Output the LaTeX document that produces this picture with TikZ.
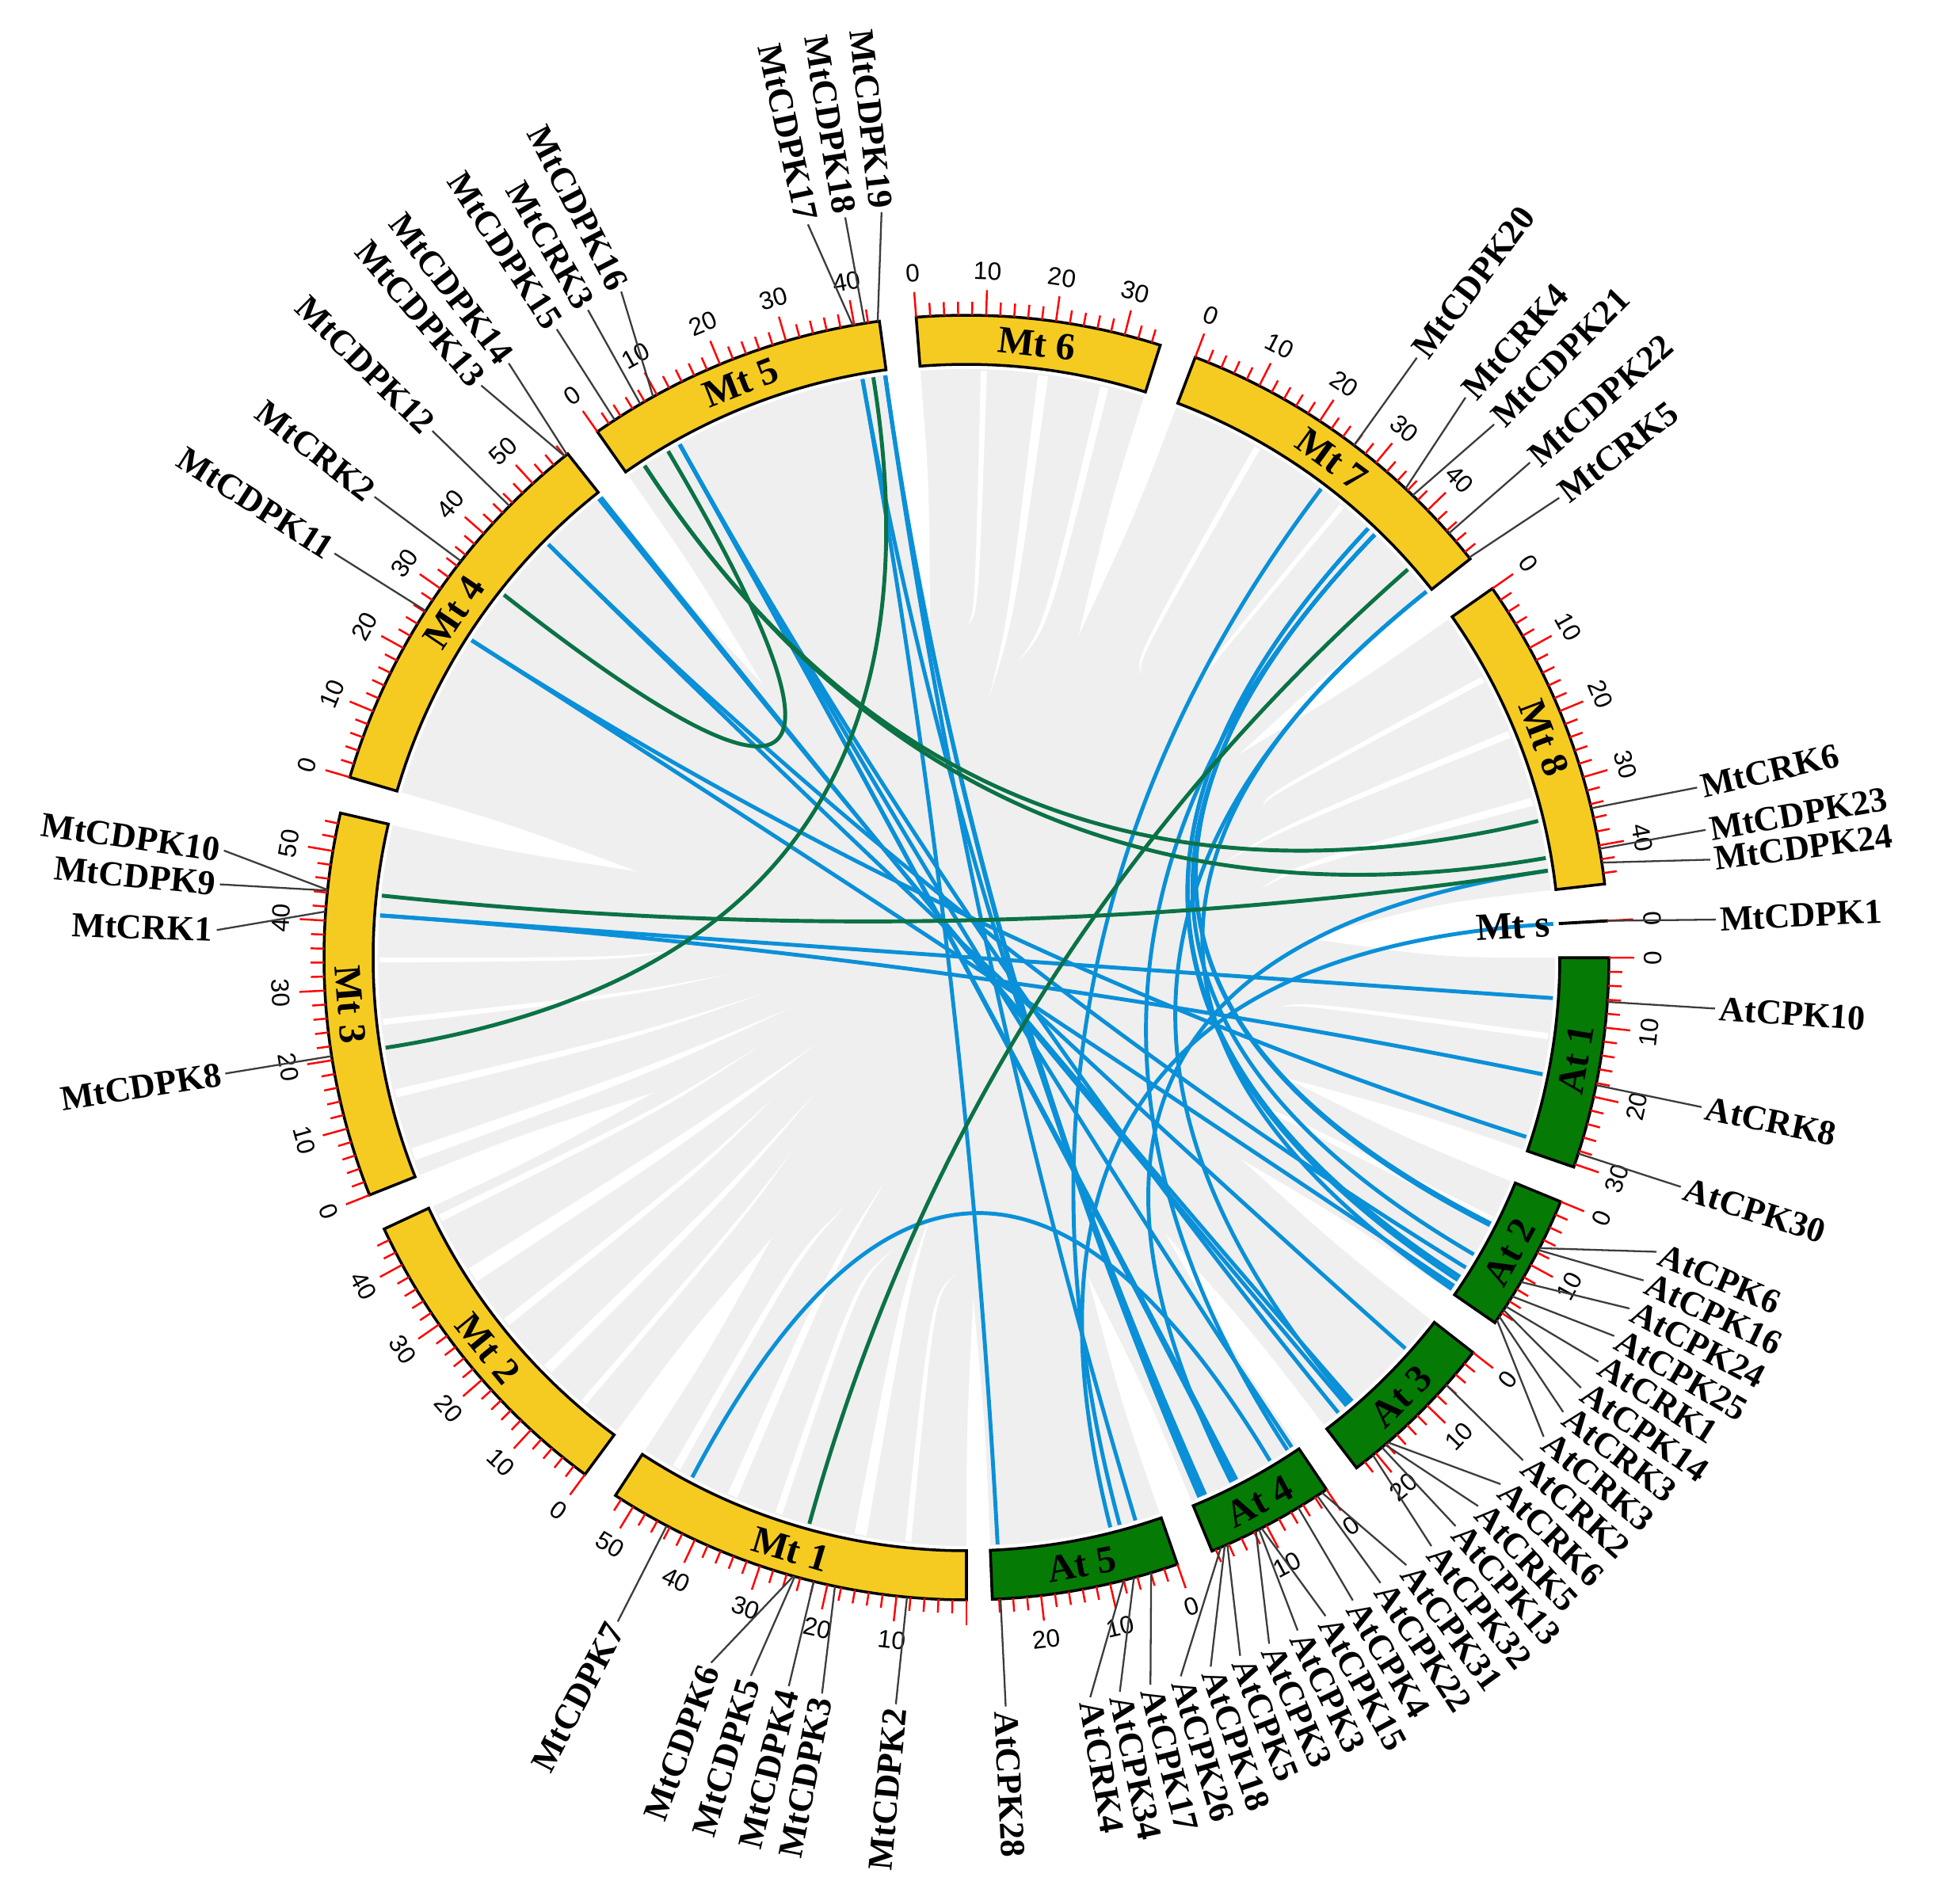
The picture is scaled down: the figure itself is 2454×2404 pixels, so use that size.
\documentclass[tikz,border=0pt]{standalone}
\usepackage{fontspec}
\setmainfont{Liberation Serif}
\newfontfamily\ticksans{Liberation Sans}
\definecolor{chromY}{HTML}{F5CB22}
\definecolor{chromG}{HTML}{057A05}
\definecolor{linkB}{HTML}{0A90D8}
\definecolor{linkG}{HTML}{0B7245}
\definecolor{bgGrey}{HTML}{EFEFEF}
\definecolor{tickRed}{HTML}{FF0000}
\definecolor{lblLine}{HTML}{3C3C3C}
\def\Rin{749}
\def\Rout{811}
\def\Rlink{742}
\def\Rctl{247}
\def\Rlab{952}
\def\Rlabend{947}
\def\Rtl{867}
\def\RtickL{843}
\def\RtickS{828}
\def\kscale{0.625}
\tikzset{
  chrombar/.style={draw=black, line width=1pt, fill=#1},
  tickline/.style={draw=tickRed, line width=0.7pt},
  ticklabel/.style={font=\ticksans\fontsize{9}{10}\selectfont, inner sep=0pt},
  chromlabel/.style={font=\bfseries\fontsize{13.8}{16}\selectfont, inner sep=0pt},
  genelabel/.style={font=\bfseries\fontsize{12.6}{15}\selectfont, inner sep=0pt},
  connector/.style={draw=lblLine, line width=0.65pt},
  bluelink/.style={draw=linkB, line width=1.4pt},
  greenlink/.style={draw=linkG, line width=1.4pt},
}
\newcommand{\chromosome}[6]{%
  \pgfmathsetmacro\cEnd{#1-#2*\kscale}
  \pgfmathsetmacro\cMid{(#1+\cEnd)/2}
  \draw[chrombar=#3] (#1:\Rin) arc[start angle=#1, end angle=\cEnd, radius=\Rin] -- (\cEnd:\Rout) arc[start angle=\cEnd, end angle=#1, radius=\Rout] -- cycle;
  \pgfmathtruncatemacro\nT{floor(#2/2)}
  \foreach \i in {0,...,\nT}{%
    \pgfmathsetmacro\tA{#1-2*\i*\kscale}
    \pgfmathtruncatemacro\isMaj{mod(\i,5)==0}
    \ifnum\isMaj=1
      \draw[tickline] (\tA:\Rout) -- (\tA:\RtickL);
      \pgfmathtruncatemacro\tval{2*\i}
      \pgfmathtruncatemacro\showlab{\tval+1>#6}
      \ifnum\showlab=1
        \pgfmathsetmacro\tn{mod(\tA+720,360)}
        \pgfmathsetmacro\trot{\tn<180 ? \tn-90 : \tn+90}
        \node[ticklabel, rotate=\trot] at (\tA:\Rtl) {\tval};
      \fi
    \else
      \draw[tickline] (\tA:\Rout) -- (\tA:\RtickS);
    \fi
  }
  \pgfmathsetmacro\cn{mod(\cMid+720,360)}
  \pgfmathsetmacro\crot{\cn<180 ? \cn-90 : \cn+90}
  \node[chromlabel, rotate=\crot] (#5) at (\cMid:780) {#4};
}
\def\genelist{MtCDPK2/264.69/264.6/MtCDPK2, MtCDPK3/258.19/258.9/MtCDPK3, MtCDPK4/256.25/256.3/MtCDPK4, MtCDPK5/254.50/253.3/MtCDPK5, MtCDPK6/254.38/250.1/MtCDPK6, MtCDPK7/242.19/242.3/MtCDPK7, MtCDPK8/188.83/188.9/MtCDPK8, MtCRK1/175.89/177.9/MtCRK1, MtCDPK9/174.01/174.4/MtCDPK9, MtCDPK10/173.95/171.8/MtCDPK10, MtCDPK11/147.33/147.4/MtCDPK11, MtCRK2/141.89/142.1/MtCRK2, MtCDPK12/135.33/135.4/MtCDPK12, MtCDPK13/128.70/130.3/MtCDPK13, MtCDPK14/128.45/127.6/MtCDPK14, MtCDPK15/123.19/123.1/MtCDPK15, MtCRK3/120.50/120.3/MtCRK3, MtCDPK16/119.19/117.4/MtCDPK16, MtCDPK17/100.19/102.2/MtCDPK17, MtCDPK18/99.12/99.3/MtCDPK18, MtCDPK19/97.94/96.5/MtCDPK19, MtCDPK20/52.89/53.1/MtCDPK20, MtCRK4/46.89/48.3/MtCRK4, MtCDPK21/46.01/45.3/MtCDPK21, MtCDPK22/41.33/41.3/MtCDPK22, MtCRK5/38.51/37.8/MtCRK5, MtCRK6/13.44/13.1/MtCRK6, MtCDPK23/9.75/9.8/MtCDPK23, MtCDPK24/8.50/7.5/MtCDPK24, MtCDPK1/3.28/2.9/MtCDPK1, AtCPK10/-3.96/-3.9/AtCPK10, AtCRK8/-11.46/-11.5/AtCRK8, AtCPK30/-17.77/-17.8/AtCPK30, AtCPK6/-26.90/-23.1/AtCPK6, AtCPK16/-27.09/-25.5/AtCPK16, AtCPK24/-30.34/-27.9/AtCPK24, AtCPK25/-31.84/-30.3/AtCPK25, AtCRK1/-32.90/-32.6/AtCRK1, AtCPK14/-33.28/-35.0/AtCPK14, AtCRK3a/-33.97/-37.3/AtCRK3, AtCRK3b/-34.34/-39.7/AtCRK3, AtCRK2/-41.70/-42.1/AtCRK2, AtCRK6/-49.01/-44.6/AtCRK6, AtCRK5/-49.33/-47.0/AtCRK5, AtCPK13/-49.70/-49.3/AtCPK13, AtCPK32/-50.76/-51.7/AtCPK32, AtCPK31/-56.41/-54.1/AtCPK31, AtCPK22/-56.91/-56.5/AtCPK22, AtCPK4/-58.91/-59.0/AtCPK4, AtCPK15/-62.66/-61.4/AtCPK15, AtCPK3a/-62.91/-63.8/AtCPK3, AtCPK3b/-63.22/-66.2/AtCPK3, AtCPK5/-66.04/-68.6/AtCPK5, AtCPK18/-66.29/-71.0/AtCPK18, AtCPK26/-66.66/-73.4/AtCPK26, AtCPK17/-73.29/-75.8/AtCPK17, AtCPK34/-74.89/-78.2/AtCPK34, AtCRK4/-75.83/-80.5/AtCRK4, AtCPK28/-86.96/-87.0/AtCPK28}
\begin{document}
\begin{tikzpicture}[x=0.01cm, y=0.01cm]
\useasboundingbox (-1220,-1195) rectangle (1234,1209);
\fill[white] (-1220,-1195) rectangle (1234,1209);
% grey synteny background
\fill[bgGrey] (0,0) circle[radius=743];
% white slivers between grey ribbons
\foreach \a/\w/\ta/\tr in {193/0.8/190/260, 199/1.2/196/230, 206/0.7/203/280, 212/1.5/210/220, 218/0.8/216/300, 224/1.0/222/260, 229/0.6/228/330, 186/0.6/184/300, 180/0.5/178/350, 240/0.8/244/350, 246/1.0/250/300, 251/0.7/256/380, 259/1.2/262/330, 264/0.6/268/400, 76/0.8/80/380, 82/1.0/85/330, 88/0.6/90/420, 15/0.8/13/380, 22/0.7/20/340, 28/0.6/27/420, -8/0.6/-9/400, -27/0.8/-27/430, 60/0.6/58/420, 50/0.5/49/450}{
  \pgfmathsetmacro\aw{\a+\w}
  \fill[white] (\a:741) .. controls (\a:430) .. (\ta:\tr) .. controls (\aw:430) .. (\aw:741) -- cycle;
}
% white wedges at the chromosome gaps
\foreach \a/\b in {236.88/233.58, 205.00/201.70, 167.00/163.70, 128.36/125.06, 97.79/94.49, 72.44/69.14, 38.36/35.06, 6.58/-0.02, -19.04/-22.34, -34.65/-37.95, -52.61/-55.91, -67.53/-70.83, -87.69/-90.00}{
  \pgfmathsetmacro\wm{(\a+\b)/2}
  \fill[white] (\a:746) arc[start angle=\a, end angle=\b, radius=746] .. controls (\b:600) .. (\wm:430) .. controls (\a:600) .. (\a:746) -- cycle;
}
% gene coordinates
\foreach \id/\ga/\la/\tx in \genelist {
  \coordinate (\id-in) at (\ga:\Rlink);
  \coordinate (\id-c) at (\ga:\Rctl);
  \coordinate (\id-g) at (\ga:\Rout);
  \coordinate (\id-e) at (\la:\Rlabend);
}
% Mt--At links
\foreach \a/\b in {MtCDPK7/AtCPK4, MtCRK1/AtCPK10, MtCRK1/AtCRK8, MtCDPK11/AtCPK30, MtCDPK11/AtCRK3a, MtCDPK12/AtCPK25, MtCDPK12/AtCRK2, MtCDPK13/AtCRK6, MtCDPK14/AtCPK13, MtCDPK16/AtCPK31, MtCDPK16/AtCPK15, MtCDPK16/AtCPK3a, MtCDPK16/AtCPK32, MtCDPK17/AtCPK28, MtCDPK17/AtCPK5, MtCDPK19/AtCPK18, MtCDPK19/AtCPK17, MtCDPK19/AtCPK26, MtCDPK20/AtCPK34, MtCRK4/AtCRK1, MtCRK4/AtCPK14, MtCDPK21/AtCPK6, MtCDPK21/AtCPK16, MtCDPK21/AtCPK24, MtCDPK21/AtCPK22, MtCRK5/AtCRK3b, MtCRK5/AtCRK5, MtCDPK24/AtCPK3b, MtCDPK1/AtCRK4}
  \draw[bluelink] (\a-in) .. controls (\a-c) and (\b-c) .. (\b-in);
% Mt--Mt links
\foreach \a/\b in {MtCRK2/MtCRK3, MtCDPK18/MtCDPK8, MtCDPK15/MtCRK6, MtCDPK15/MtCDPK23, MtCDPK10/MtCDPK24, MtCDPK22/MtCDPK5}
  \draw[greenlink] (\a-in) .. controls (\a-c) and (\b-c) .. (\b-in);
% chromosomes
\chromosome{270}{52.99}{chromY}{Mt 1}{Mt1}{1}
\chromosome{233.58}{45.73}{chromY}{Mt 2}{Mt2}{0}
\chromosome{201.70}{55.52}{chromY}{Mt 3}{Mt3}{0}
\chromosome{163.70}{56.55}{chromY}{Mt 4}{Mt4}{0}
\chromosome{125.06}{43.63}{chromY}{Mt 5}{Mt5}{0}
\chromosome{94.49}{35.28}{chromY}{Mt 6}{Mt6}{0}
\chromosome{69.14}{49.24}{chromY}{Mt 7}{Mt7}{0}
\chromosome{35.06}{45.57}{chromY}{Mt 8}{Mt8}{0}
\chromosome{-0.02}{30.43}{chromG}{At 1}{At1}{0}
\chromosome{-22.34}{19.70}{chromG}{At 2}{At2}{0}
\chromosome{-37.95}{23.46}{chromG}{At 3}{At3}{0}
\chromosome{-55.91}{18.59}{chromG}{At 4}{At4}{0}
\chromosome{-70.83}{26.98}{chromG}{At 5}{At5}{0}
% scaffold Mt s
\coordinate (Mts-a) at (3.28:\Rin);
\coordinate (Mts-b) at (3.28:\Rout);
\draw[black, line width=1.1pt] (Mts-a) -- (Mts-b);
\draw[tickline] (3.28:\Rout) -- (3.28:\RtickL);
\node[ticklabel, rotate=-86.72] at (3.28:\Rtl) {0};
\node[chromlabel, rotate=3.28, anchor=east] (Mts) at (3.28:738) {Mt s};
% gene labels and their connectors
\foreach \id/\ga/\la/\tx in \genelist {
  \pgfmathsetmacro\gnorm{mod(\la+720,360)}
  \pgfmathtruncatemacro\gside{and(\gnorm>90,\gnorm<270)}
  \ifnum\gside=1
    \pgfmathsetmacro\grot{\gnorm+180}
    \node[genelabel, rotate=\grot, anchor=east] (\id) at (\la:\Rlab) {\tx};
  \else
    \node[genelabel, rotate=\la, anchor=west] (\id) at (\la:\Rlab) {\tx};
  \fi
  \draw[connector] (\id-g) -- (\id-e);
}
\end{tikzpicture}
\end{document}
